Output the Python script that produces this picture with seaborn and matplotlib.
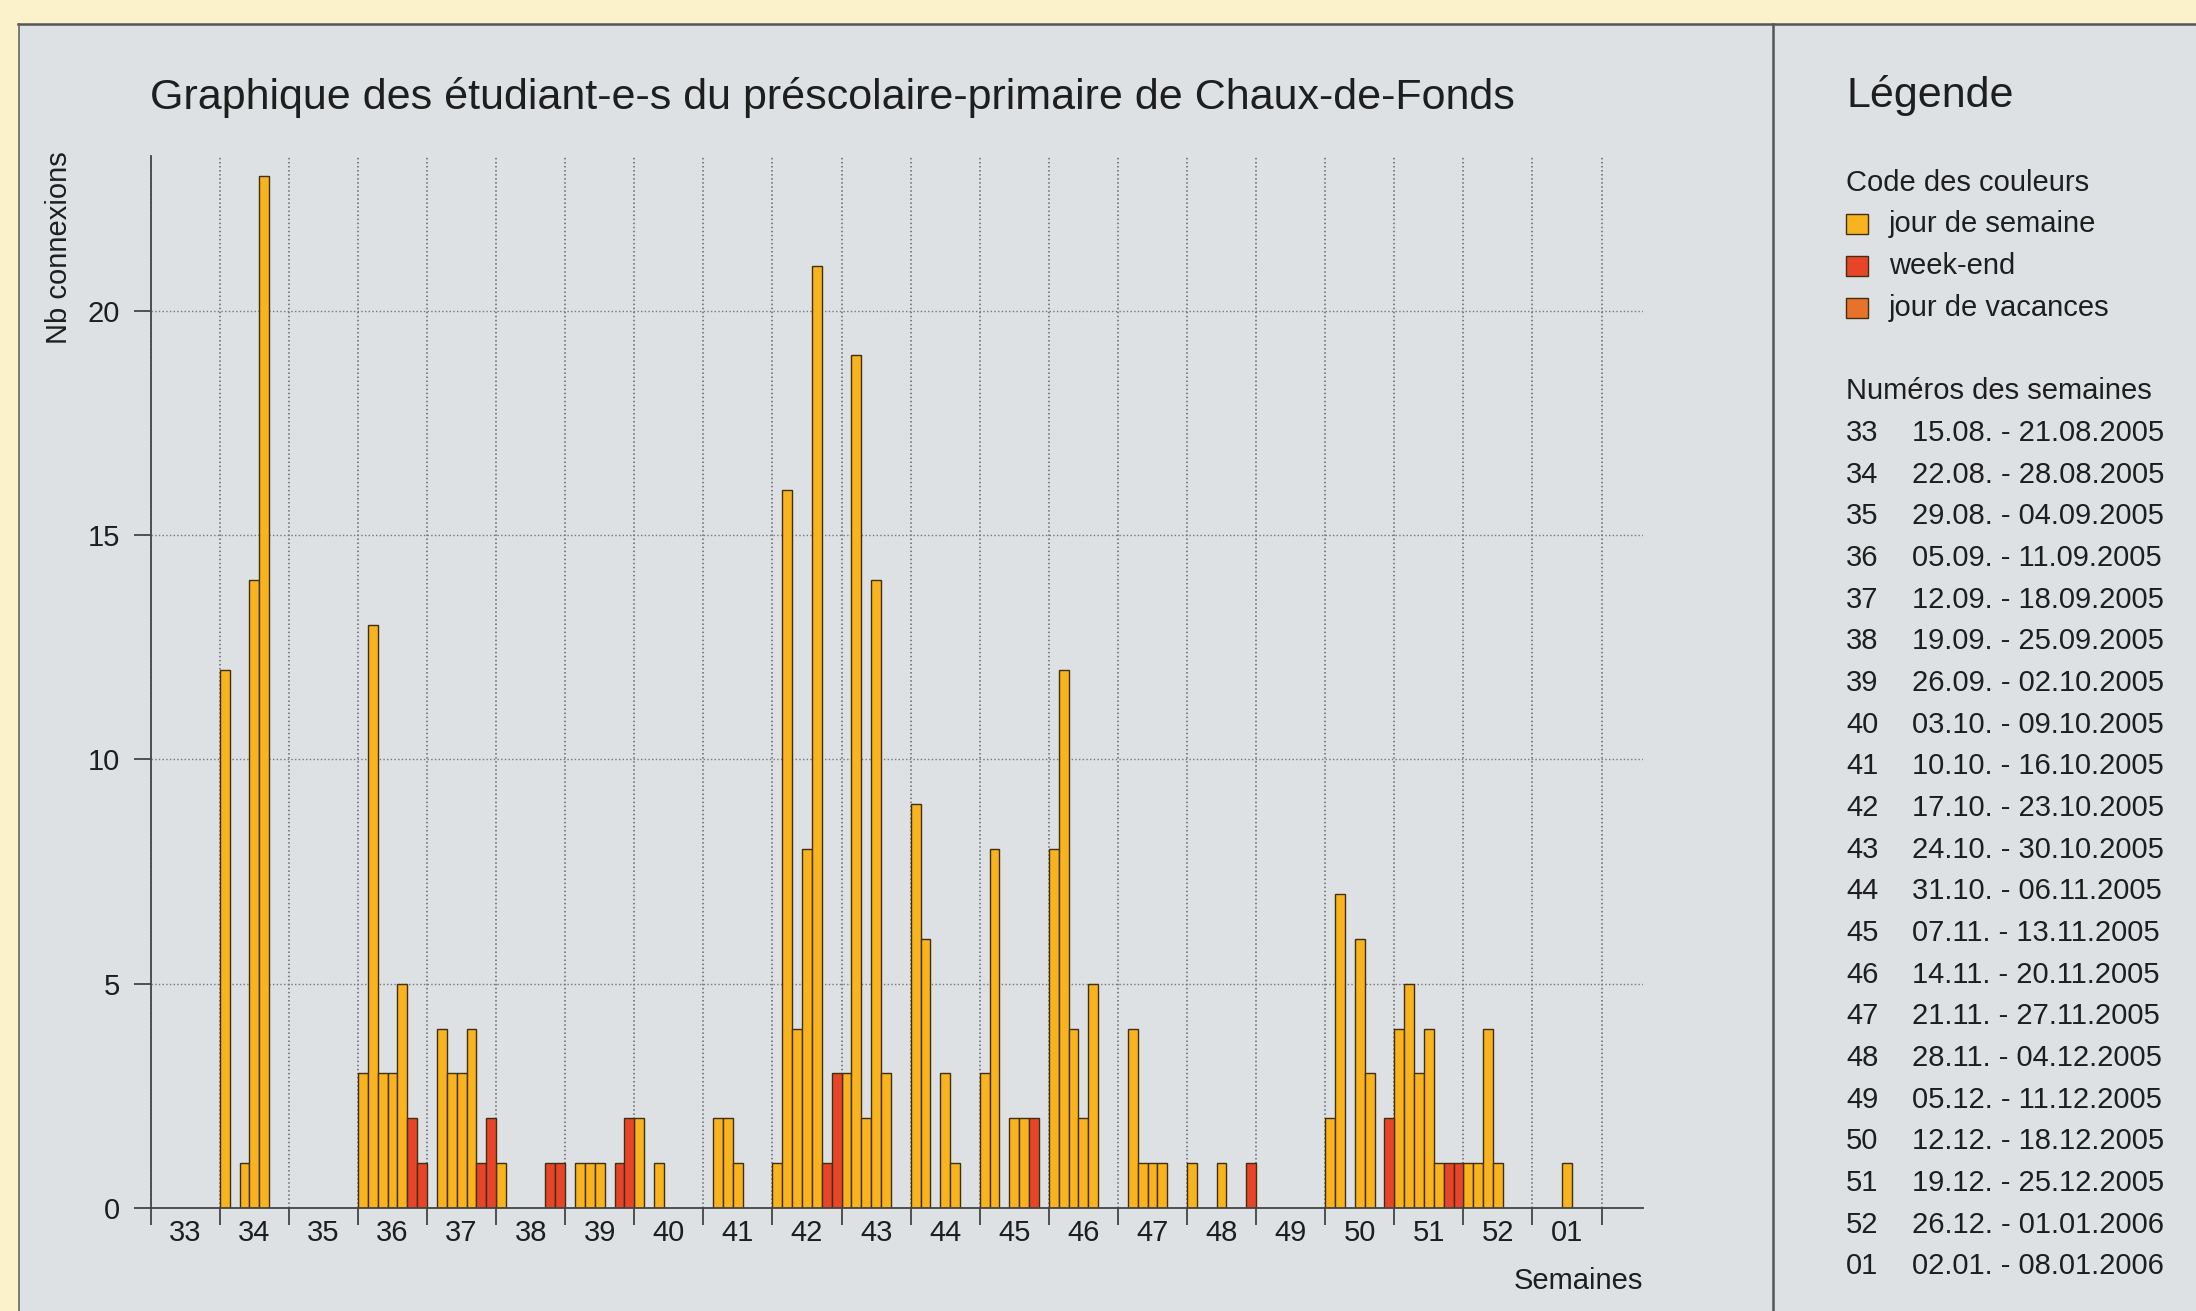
import numpy as np
import pandas as pd
import matplotlib
matplotlib.use('Agg')
import matplotlib.pyplot as plt
import seaborn as sns
from matplotlib.patches import Rectangle
from matplotlib.lines import Line2D

# --- données : connexions par jour (lundi ... dimanche) ---
weeks = ['33', '34', '35', '36', '37', '38', '39', '40', '41', '42', '43',
         '44', '45', '46', '47', '48', '49', '50', '51', '52', '01']

w33 = [0, 0, 0, 0, 0, 0, 0]
w34 = [12, 0, 1, 14, 23, 0, 0]
w35 = [0, 0, 0, 0, 0, 0, 0]
w36 = [3, 13, 3, 3, 5, 2, 1]
w37 = [0, 4, 3, 3, 4, 1, 2]
w38 = [1, 0, 0, 0, 0, 1, 1]
w39 = [0, 1, 1, 1, 0, 1, 2]
w40 = [2, 0, 1, 0, 0, 0, 0]
w41 = [0, 2, 2, 1, 0, 0, 0]
w42 = [1, 16, 4, 8, 21, 1, 3]
w43 = [3, 19, 2, 14, 3, 0, 0]
w44 = [9, 6, 0, 3, 1, 0, 0]
w45 = [3, 8, 0, 2, 2, 2, 0]
w46 = [8, 12, 4, 2, 5, 0, 0]
w47 = [0, 4, 1, 1, 1, 0, 0]
w48 = [1, 0, 0, 1, 0, 0, 1]
w49 = [0, 0, 0, 0, 0, 0, 0]
w50 = [2, 7, 0, 6, 3, 0, 2]
w51 = [4, 5, 3, 4, 1, 1, 1]
w52 = [1, 1, 4, 1, 0, 0, 0]
w01 = [0, 0, 0, 1, 0, 0, 0]

week_values = [w33, w34, w35, w36, w37, w38, w39, w40, w41, w42, w43,
               w44, w45, w46, w47, w48, w49, w50, w51, w52, w01]

day_types = ['jour de semaine'] * 5 + ['week-end'] * 2

week_dates = ['15.08. - 21.08.2005', '22.08. - 28.08.2005', '29.08. - 04.09.2005',
              '05.09. - 11.09.2005', '12.09. - 18.09.2005', '19.09. - 25.09.2005',
              '26.09. - 02.10.2005', '03.10. - 09.10.2005', '10.10. - 16.10.2005',
              '17.10. - 23.10.2005', '24.10. - 30.10.2005', '31.10. - 06.11.2005',
              '07.11. - 13.11.2005', '14.11. - 20.11.2005', '21.11. - 27.11.2005',
              '28.11. - 04.12.2005', '05.12. - 11.12.2005', '12.12. - 18.12.2005',
              '19.12. - 25.12.2005', '26.12. - 01.01.2006', '02.01. - 08.01.2006']

categories = ['jour de semaine', 'week-end', 'jour de vacances']
palette = {'jour de semaine': '#F9B31E',
           'week-end': '#E8442A',
           'jour de vacances': '#E8722A'}

# --- tableau pour seaborn ---
rows = []
for i, vals in enumerate(week_values):
    for d, v in enumerate(vals):
        if v > 0:
            rows.append({'jour': i * 7 + d + 0.5, 'n': v, 'type': day_types[d]})
df = pd.DataFrame(rows)

# --- style ---
PANEL = '#DDE1E4'
BG = '#FBF2CC'
TXT = '#1E1E1E'
plt.rcParams['font.family'] = ['Liberation Sans', 'DejaVu Sans']

W, H = 2196, 1311


def fx(px):
    return px / W


def fy(py):
    return 1 - py / H


fig = plt.figure(figsize=(W / 100, H / 100), dpi=100)
fig.patch.set_facecolor(BG)

fig.add_artist(Rectangle((fx(19), 0), 1 - fx(19), fy(24), transform=fig.transFigure,
                         facecolor=PANEL, edgecolor='none', zorder=-2))
fig.add_artist(Line2D([fx(18), 1], [fy(24), fy(24)], transform=fig.transFigure,
                      color='#555555', lw=1.8, zorder=-1))
fig.add_artist(Line2D([fx(19), fx(19)], [0, fy(24)], transform=fig.transFigure,
                      color='#666666', lw=1.2, zorder=-1))
fig.add_artist(Line2D([fx(1773), fx(1773)], [0, fy(24)], transform=fig.transFigure,
                      color='#555555', lw=1.8, zorder=-1))

ax = fig.add_axes([fx(150.7), fy(1208), fx(1643) - fx(150.7), fy(155.7) - fy(1208)])
ax.set_facecolor('none')

sns.barplot(data=df, x='jour', y='n', hue='type', hue_order=categories,
            palette=palette, saturation=1, native_scale=True, width=1, dodge=False,
            errorbar=None, edgecolor='#3E300E', linewidth=1.0, legend=False, ax=ax)

ax.set_xlim(0, 151.2)
ax.set_ylim(0, 23.45)

ax.set_xticks(np.arange(0, 148, 7))
ax.set_xticklabels([])
ax.set_xticks(np.arange(3.5, 147, 7), minor=True)
ax.set_xticklabels(weeks, minor=True)
ax.tick_params(axis='x', which='major', length=12, width=1.3, color='#444444', direction='out')
ax.tick_params(axis='x', which='minor', length=0, pad=8, labelsize=21, labelcolor=TXT)
ax.set_yticks([0, 5, 10, 15, 20])
ax.tick_params(axis='y', length=12, width=1.3, color='#444444', pad=10,
               labelsize=21, labelcolor=TXT)

ax.grid(True, axis='x', which='major', linestyle=':', color='#666666', lw=1.1)
ax.grid(True, axis='y', which='major', linestyle=':', color='#777777', lw=1.0)
ax.set_axisbelow(True)

for s in ['top', 'right']:
    ax.spines[s].set_visible(False)
for s in ['left', 'bottom']:
    ax.spines[s].set_color('#444444')
    ax.spines[s].set_linewidth(1.3)

ax.set_xlabel('')
ax.set_ylabel('')

fig.text(fx(59), fy(151), 'Nb connexions', rotation=90, ha='center', va='top',
         fontsize=21, color=TXT)
fig.text(fx(1643), fy(1281), 'Semaines', ha='right', va='center', fontsize=21, color=TXT)
fig.text(fx(150), fy(97), 'Graphique des étudiant-e-s du préscolaire-primaire de Chaux-de-Fonds',
         ha='left', va='center', fontsize=31, color=TXT)

# --- légende ---
fig.text(fx(1846), fy(95), 'Légende', ha='left', va='center', fontsize=31, color=TXT)
fig.text(fx(1846), fy(183), 'Code des couleurs', ha='left', va='center', fontsize=21, color=TXT)
for k, cat in enumerate(categories):
    yc = 224 + 42 * k
    fig.add_artist(Rectangle((fx(1846), fy(yc + 10)), fx(22), 20 / H,
                             transform=fig.transFigure, facecolor=palette[cat],
                             edgecolor='#3E300E', lw=1.0))
    fig.text(fx(1889), fy(yc), cat, ha='left', va='center', fontsize=21, color=TXT)

fig.text(fx(1846), fy(391), 'Numéros des semaines', ha='left', va='center', fontsize=21, color=TXT)
for k, (wk, dt) in enumerate(zip(weeks, week_dates)):
    yc = 433 + 41.66 * k
    fig.text(fx(1846), fy(yc), wk, ha='left', va='center', fontsize=21, color=TXT)
    fig.text(fx(1912), fy(yc), dt, ha='left', va='center', fontsize=21, color=TXT)

fig.savefig('out.png', dpi=100, facecolor=BG)
